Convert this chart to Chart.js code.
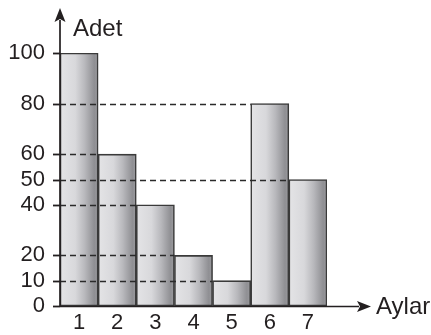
<!DOCTYPE html>
<html>
<head>
<meta charset="utf-8">
<script src="https://cdn.jsdelivr.net/npm/chart.js@4/dist/chart.umd.min.js"></script>
<style>
  html, body { margin: 0; padding: 0; background: #fff; }
  #wrap { width: 431px; height: 335px; position: relative; }
</style>
</head>
<body>
<div id="wrap"><canvas id="c"></canvas></div>
<script>
const months = ['1', '2', '3', '4', '5', '6', '7'];
const counts = [100, 60, 40, 20, 10, 80, 50];
const yTickValues = [0, 10, 20, 40, 50, 60, 80, 100];
const yTitle = 'Adet';
const xTitle = 'Aylar';

const INK = '#231f20';
const FONT = '"Liberation Sans", Arial, sans-serif';

function barGradient(c) {
  const ch = c.chart;
  const xs = ch.scales && ch.scales.x;
  if (!xs || !ch.chartArea) return '#cfcfd2';
  const w = xs.width / months.length;
  const cx = xs.getPixelForValue(c.dataIndex);
  const g = ch.ctx.createLinearGradient(cx - w / 2, 0, cx + w / 2, 0);
  g.addColorStop(0, '#e4e4e6');
  g.addColorStop(0.4, '#d8d8db');
  g.addColorStop(0.65, '#b8b8bc');
  g.addColorStop(0.9, '#8f8f93');
  g.addColorStop(1, '#9c9ca0');
  return g;
}

const decor = {
  id: 'decor',
  afterDatasetsDraw(chart) {
    const ctx = chart.ctx;
    const a = chart.chartArea;
    const ys = chart.scales.y;
    const meta = chart.getDatasetMeta(0);
    ctx.save();
    // dashed guide lines from y-axis to each bar's left edge
    ctx.strokeStyle = '#2a2a2a';
    ctx.lineWidth = 1.6;
    ctx.setLineDash([6, 4]);
    meta.data.forEach((bar, i) => {
      const left = bar.x - bar.width / 2;
      if (left - a.left < 2) return;
      const y = Math.round(ys.getPixelForValue(counts[i])) + 0.5;
      ctx.beginPath();
      ctx.moveTo(a.left, y);
      ctx.lineTo(left, y);
      ctx.stroke();
    });
    ctx.setLineDash([]);
    // tick marks
    ctx.strokeStyle = INK;
    ctx.lineWidth = 1.8;
    yTickValues.forEach(v => {
      const y = Math.round(ys.getPixelForValue(v)) + 0.5;
      ctx.beginPath();
      ctx.moveTo(a.left - 7, y);
      ctx.lineTo(a.left, y);
      ctx.stroke();
    });
    // axes
    const x0 = a.left, y0 = Math.round(a.bottom) + 0.5;
    const yTop = a.top - 37;
    const xEnd = a.right + 36;
    ctx.lineWidth = 1.7;
    ctx.beginPath();
    ctx.moveTo(x0, a.bottom + 1);
    ctx.lineTo(x0, yTop + 4);
    ctx.moveTo(x0, y0);
    ctx.lineTo(xEnd - 4, y0);
    ctx.stroke();
    ctx.fillStyle = INK;
    // up arrow
    ctx.beginPath();
    ctx.moveTo(x0, yTop - 8);
    ctx.lineTo(x0 + 5.5, yTop + 6);
    ctx.lineTo(x0, yTop + 3);
    ctx.lineTo(x0 - 5.5, yTop + 6);
    ctx.closePath();
    ctx.fill();
    // right arrow
    ctx.beginPath();
    ctx.moveTo(xEnd + 8, y0);
    ctx.lineTo(xEnd - 6, y0 - 5.5);
    ctx.lineTo(xEnd - 3, y0);
    ctx.lineTo(xEnd - 6, y0 + 5.5);
    ctx.closePath();
    ctx.fill();
    // titles
    ctx.font = '24px ' + FONT;
    ctx.textAlign = 'left';
    ctx.textBaseline = 'alphabetic';
    ctx.fillText(yTitle, x0 + 13, yTop + 20);
    ctx.fillText(xTitle, xEnd + 13, y0 + 7);
    ctx.restore();
  }
};

new Chart(document.getElementById('c'), {
  type: 'bar',
  data: {
    labels: months,
    datasets: [{
      data: counts,
      backgroundColor: barGradient,
      borderColor: '#3a3a3a',
      borderWidth: 1.6,
      borderSkipped: false,
      barPercentage: 1,
      categoryPercentage: 1
    }]
  },
  options: {
    responsive: true,
    maintainAspectRatio: false,
    animation: false,
    events: [],
    layout: { padding: { top: 53, right: 104, left: 0, bottom: 0 } },
    plugins: { legend: { display: false }, tooltip: { enabled: false } },
    scales: {
      x: {
        grid: { display: false, drawTicks: false },
        border: { display: false },
        ticks: { color: INK, font: { family: FONT, size: 22 }, padding: 4, maxRotation: 0 },
        afterFit(s) { s.height = 29; }
      },
      y: {
        min: 0, max: 100,
        grid: { display: false, drawTicks: false },
        border: { display: false },
        afterBuildTicks(s) { s.ticks = yTickValues.map(v => ({ value: v })); },
        ticks: { color: INK, font: { family: FONT, size: 22 }, padding: 15, autoSkip: false },
        afterFit(s) { s.width = 60; }
      }
    }
  },
  plugins: [decor]
});
</script>
</body>
</html>
